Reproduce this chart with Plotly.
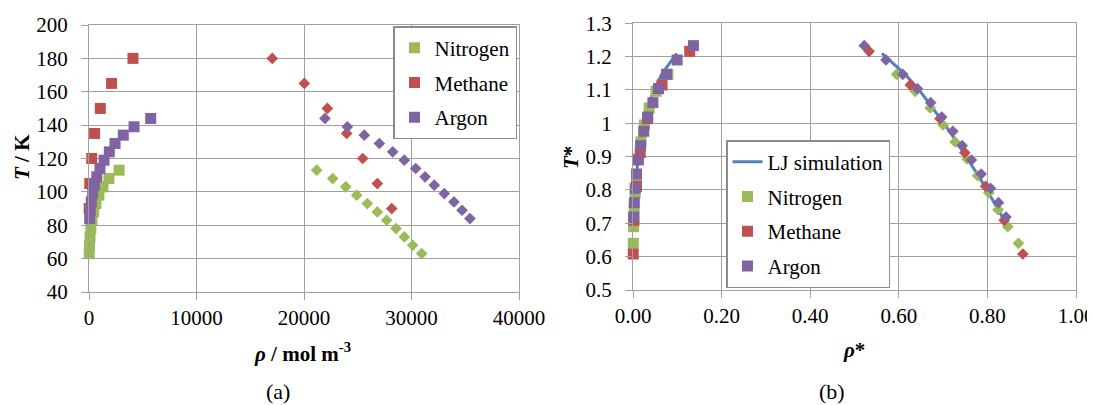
import plotly.graph_objects as go

# ---------------- data (a): absolute units ----------------
N2_T = [63, 68, 73, 78, 83, 88, 93, 98, 103, 108, 113]
N2_rho_vap = [25, 50, 95, 170, 280, 430, 640, 920, 1300, 1850, 2800]
N2_rho_liq = [30950, 30110, 29330, 28560, 27690, 26820, 25890, 24900, 23880, 22670, 21180]

CH4_T = [90, 105, 120, 135, 150, 165, 180]
CH4_rho_vap = [16, 70, 250, 520, 1050, 2100, 4090]
CH4_rho_liq = [28160, 26820, 25460, 23970, 22170, 20030, 17050]

Ar_T = [84, 89, 94, 99, 104, 109, 114, 119, 124, 129, 134, 139, 144]
Ar_rho_vap = [60, 120, 210, 340, 500, 720, 1020, 1400, 1890, 2420, 3190, 4190, 5740]
Ar_rho_liq = [35440, 34700, 33950, 33050, 32120, 31260, 30390, 29330, 28250, 27010, 25610, 24030, 21950]

# ---------------- data (b): reduced units ----------------
N2_Tr = [0.640, 0.690, 0.741, 0.792, 0.843, 0.893, 0.944, 0.995, 1.046, 1.096, 1.147]
N2_rhor_vap = [0.0007, 0.0014, 0.0027, 0.0048, 0.0079, 0.0121, 0.018, 0.0259, 0.0365, 0.052, 0.0787]
N2_rhor_liq = [0.870, 0.846, 0.824, 0.803, 0.778, 0.754, 0.727, 0.700, 0.671, 0.637, 0.595]

CH4_Tr = [0.608, 0.709, 0.811, 0.912, 1.014, 1.115, 1.216]
CH4_rhor_vap = [0.0005, 0.0022, 0.0078, 0.0163, 0.0328, 0.0656, 0.128]
CH4_rhor_liq = [0.880, 0.838, 0.796, 0.749, 0.693, 0.626, 0.533]

Ar_Tr = [0.719, 0.762, 0.805, 0.848, 0.890, 0.933, 0.976, 1.019, 1.062, 1.104, 1.147, 1.190, 1.233]
Ar_rhor_vap = [0.0014, 0.0029, 0.0050, 0.0081, 0.0119, 0.0171, 0.0242, 0.0333, 0.0449, 0.0575, 0.0758, 0.0996, 0.1364]
Ar_rhor_liq = [0.842, 0.825, 0.807, 0.786, 0.764, 0.743, 0.722, 0.697, 0.672, 0.642, 0.609, 0.571, 0.522]

LJ_Tr = [0.70, 0.75, 0.80, 0.85, 0.90, 0.95, 1.00, 1.05, 1.10, 1.15, 1.21]
LJ_rhor_liq = [0.842, 0.821, 0.799, 0.776, 0.752, 0.728, 0.702, 0.675, 0.646, 0.612, 0.562]
LJ_rhor_vap = [0.0020, 0.0032, 0.0050, 0.0078, 0.0118, 0.0172, 0.0245, 0.034, 0.047, 0.066, 0.099]

species = ["Nitrogen", "Methane", "Argon"]
colors = {"Nitrogen": "#9BBB59", "Methane": "#C0504D", "Argon": "#8064A2"}
LJ_COLOR = "#4F81BD"
FONT = "Liberation Serif"
GRID = "#A0A0A0"

abs_data = {
    "Nitrogen": (N2_T, N2_rho_vap, N2_rho_liq),
    "Methane": (CH4_T, CH4_rho_vap, CH4_rho_liq),
    "Argon": (Ar_T, Ar_rho_vap, Ar_rho_liq),
}
red_data = {
    "Nitrogen": (N2_Tr, N2_rhor_vap, N2_rhor_liq),
    "Methane": (CH4_Tr, CH4_rhor_vap, CH4_rhor_liq),
    "Argon": (Ar_Tr, Ar_rhor_vap, Ar_rhor_liq),
}

fig = go.Figure()

# ---- panel (a) ----
for sp in species:
    T, rv, rl = abs_data[sp]
    fig.add_trace(go.Scatter(x=rv, y=T, mode="markers", name=sp,
                             marker=dict(symbol="square", size=11, color=colors[sp]),
                             xaxis="x", yaxis="y", legend="legend",
                             legendgroup="a" + sp, cliponaxis=False))
    fig.add_trace(go.Scatter(x=rl, y=T, mode="markers", name=sp + " liquid",
                             marker=dict(symbol="diamond", size=9, color=colors[sp]),
                             xaxis="x", yaxis="y", showlegend=False, cliponaxis=False))

# ---- panel (b) ----
lj_x = LJ_rhor_vap + [None] + LJ_rhor_liq
lj_y = LJ_Tr + [None] + LJ_Tr
fig.add_trace(go.Scatter(x=lj_x, y=lj_y, mode="lines", name="LJ simulation",
                         line=dict(color=LJ_COLOR, width=3),
                         xaxis="x2", yaxis="y2", legend="legend2",
                         legendgroup="bLJ"))
for sp in species:
    T, rv, rl = red_data[sp]
    fig.add_trace(go.Scatter(x=rv, y=T, mode="markers", name=sp,
                             marker=dict(symbol="square", size=11, color=colors[sp]),
                             xaxis="x2", yaxis="y2", legend="legend2",
                             legendgroup="b" + sp, cliponaxis=False))
    fig.add_trace(go.Scatter(x=rl, y=T, mode="markers", name=sp + " liquid",
                             marker=dict(symbol="diamond", size=9, color=colors[sp]),
                             xaxis="x2", yaxis="y2", showlegend=False, cliponaxis=False))

# The page body has an 8 px margin, so the figure is drawn 8 px in from the
# window's top-left corner; reference pixel positions are converted accordingly.
OFF = 8
W, H = 1095 - OFF, 405 - OFF
def px(x): return (x - OFF) / W
def py(y): return 1 - (y - OFF) / H

axis_common = dict(showgrid=True, gridcolor=GRID, gridwidth=1.3,
                   showline=True, linecolor=GRID, linewidth=1.3, mirror=True,
                   ticks="outside", ticklen=7, tickcolor=GRID, tickwidth=1.3,
                   tickfont=dict(family=FONT, size=21, color="black"),
                   zeroline=False, fixedrange=True, automargin=False)

fig.update_layout(
    template="none",
    width=W, height=H,
    margin=dict(l=0, r=0, t=0, b=0, autoexpand=False),
    paper_bgcolor="white", plot_bgcolor="white",
    font=dict(family=FONT, size=21, color="black"),
    xaxis=dict(domain=[px(89), px(519)], range=[0, 40000], dtick=10000,
               tickformat="d", anchor="y", ticklabelstandoff=0, **axis_common),
    yaxis=dict(domain=[py(292), py(25)], range=[40, 200], dtick=20,
               anchor="x", ticklabelstandoff=9, **axis_common),
    xaxis2=dict(domain=[px(633), px(1076)], range=[0, 1], dtick=0.2,
                tickformat=".2f", anchor="y2", ticklabelstandoff=0, **axis_common),
    yaxis2=dict(domain=[py(290), py(23.3)], range=[0.5, 1.3], dtick=0.1,
                anchor="x2", ticklabelstandoff=9, **axis_common),
    legend=dict(x=px(393), y=py(26), xanchor="left", yanchor="top",
                bgcolor="white", bordercolor="#8C8C8C", borderwidth=1.5,
                font=dict(family=FONT, size=21, color="black"),
                traceorder="grouped", tracegroupgap=4.5, itemsizing="trace"),
    legend2=dict(x=px(726), y=py(140), xanchor="left", yanchor="top",
                 bgcolor="white", bordercolor="#8C8C8C", borderwidth=1.5,
                 font=dict(family=FONT, size=21, color="black"),
                 traceorder="grouped", tracegroupgap=4.5, itemsizing="trace"),
    showlegend=True,
)

ann = [
    dict(x=px(22), y=py(157), text="<b><i>T</i> / K</b>", textangle=-90),
    dict(x=px(302), y=py(352), text="<b><i>ρ</i> / mol m<sup>-3</sup></b>"),
    dict(x=px(278), y=py(391), text="(a)", font=dict(family=FONT, size=22, color="black")),
    dict(x=px(571), y=py(158), text="<b><i>T</i>*</b>", textangle=-90),
    dict(x=px(854), y=py(350), text="<b><i>ρ</i>*</b>"),
    dict(x=px(832), y=py(391), text="(b)", font=dict(family=FONT, size=22, color="black")),
]
for a in ann:
    a.update(xref="paper", yref="paper", showarrow=False, xanchor="center", yanchor="middle")
    a.setdefault("font", dict(family=FONT, size=21, color="black"))
fig.update_layout(annotations=ann)

fig.write_html("out.html")
